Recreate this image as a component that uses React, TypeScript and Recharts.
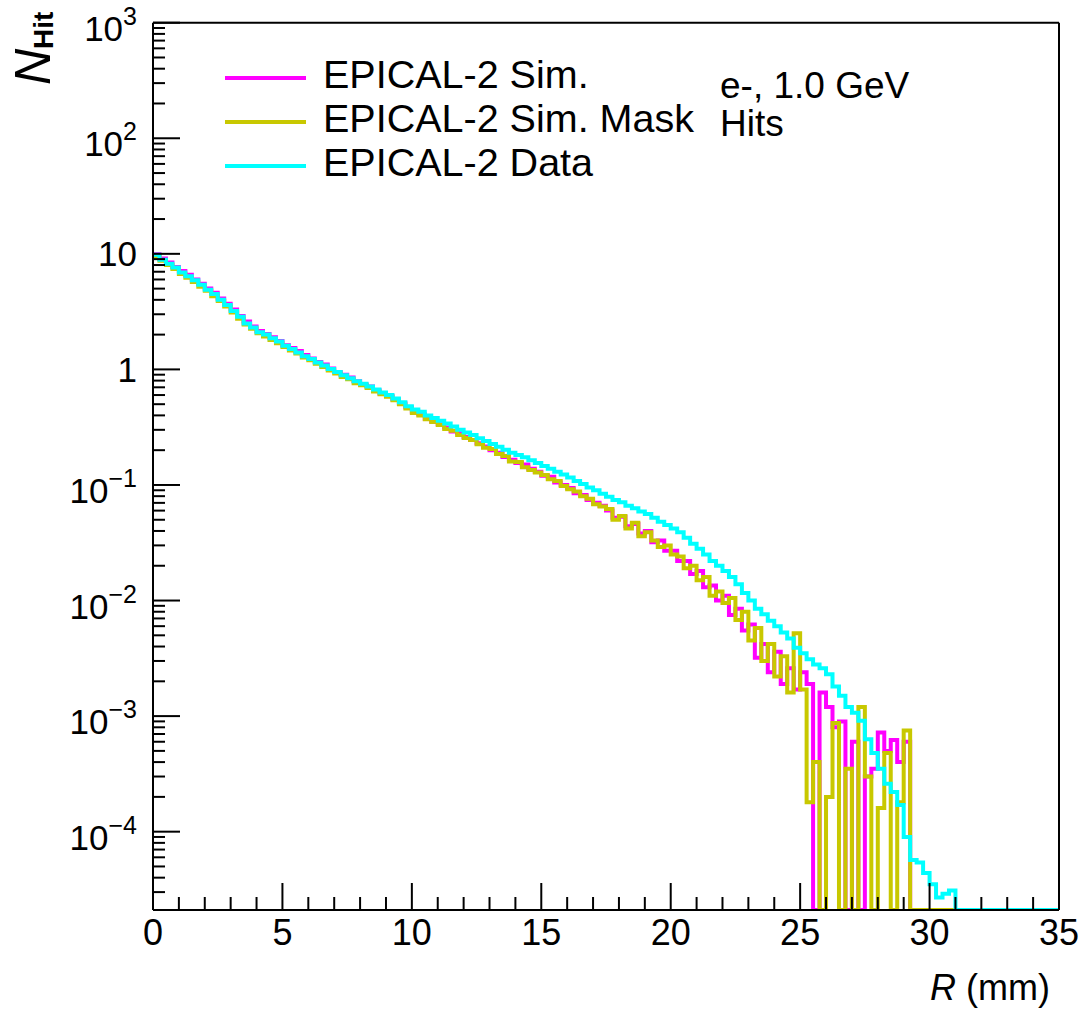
import { LineChart, Line, XAxis, YAxis, ReferenceLine } from 'recharts';

const FONT = '"Liberation Sans", Arial, Helvetica, sans-serif';

// histogram: 140 bins of 0.25 mm from 0 to 35 mm
const BIN_WIDTH = 0.25;
const Y_FLOOR = 2.1e-5;

// EPICAL-2 Data (cyan)
const dataHits = [
  9.8, 8.9, 8.2, 7.6, 6.9, 6.4, 5.9, 5.4, 4.9, 4.5,
  4.0, 3.6, 3.2, 2.85, 2.5, 2.3, 2.1, 2.0, 1.86, 1.74,
  1.6, 1.5, 1.4, 1.3, 1.23, 1.15, 1.08, 1.01, 0.95, 0.89,
  0.84, 0.79, 0.75, 0.71, 0.67, 0.63, 0.6, 0.56, 0.52, 0.48,
  0.45, 0.43, 0.4, 0.38, 0.36, 0.34, 0.32, 0.3, 0.285, 0.27,
  0.254, 0.24, 0.226, 0.214, 0.202, 0.19, 0.182, 0.174, 0.164, 0.155,
  0.146, 0.138, 0.13, 0.123, 0.116, 0.108, 0.102, 0.095, 0.09, 0.084,
  0.079, 0.074, 0.071, 0.066, 0.063, 0.059, 0.056, 0.052, 0.048, 0.045,
  0.042, 0.039, 0.035, 0.031, 0.028, 0.025, 0.022, 0.02, 0.018, 0.016,
  0.0138, 0.0116, 0.01, 0.0085, 0.0076, 0.0067, 0.006, 0.0053, 0.0047, 0.0039,
  0.0035, 0.0031, 0.0028, 0.0026, 0.0023, 0.0018, 0.0015, 0.0012, 0.00107, 0.00091,
  0.00063, 0.00048, 0.00035, 0.00026, 0.00022, 0.00017, 0.00009, 0.000057, 0.000054, 0.000044,
  0.000035, 0.000027, 0.000029, 0.000031, 0, 0, 0, 0, 0, 0,
  0, 0, 0, 0, 0, 0, 0, 0, 0, 0,
];

// EPICAL-2 Sim. (magenta)
const simHits = [
  9.9, 9.1, 8.4, 7.7, 7.1, 6.6, 6.0, 5.5, 5.0, 4.6,
  4.1, 3.7, 3.3, 2.9, 2.6, 2.35, 2.15, 2.02, 1.9, 1.76,
  1.62, 1.53, 1.44, 1.33, 1.24, 1.16, 1.1, 1.02, 0.95, 0.9,
  0.85, 0.79, 0.74, 0.71, 0.66, 0.62, 0.59, 0.55, 0.51, 0.47,
  0.43, 0.41, 0.375, 0.355, 0.335, 0.315, 0.29, 0.28, 0.26, 0.245,
  0.23, 0.215, 0.2, 0.19, 0.175, 0.165, 0.155, 0.15, 0.138, 0.13,
  0.12, 0.118, 0.105, 0.1, 0.094, 0.085, 0.082, 0.074, 0.07, 0.066,
  0.06, 0.052, 0.053, 0.044, 0.046, 0.038, 0.04, 0.032, 0.033, 0.027,
  0.027, 0.022, 0.022, 0.017, 0.018, 0.013, 0.0135, 0.01, 0.011, 0.0075,
  0.0085, 0.0055, 0.0062, 0.0032, 0.0042, 0.0024, 0.0036, 0.0019, 0.0026, 0.0017,
  0.0024, 0.0019, 0, 0.0016, 0.0012, 0.0008, 0.0009, 0, 0.0006, 0,
  0.0003, 0.00035, 0.00072, 0.0005, 0.00062, 0.0004, 0.0006, 0, 0, 0,
  0, 0, 0, 0, 0, 0, 0, 0, 0, 0,
  0, 0, 0, 0, 0, 0, 0, 0, 0, 0,
];

// EPICAL-2 Sim. Mask (olive yellow)
const maskHits = [
  9.5, 8.7, 8.0, 7.4, 6.7, 6.2, 5.7, 5.2, 4.8, 4.3,
  3.9, 3.5, 3.1, 2.75, 2.45, 2.25, 2.05, 1.93, 1.8, 1.68,
  1.56, 1.46, 1.37, 1.27, 1.2, 1.12, 1.05, 0.98, 0.92, 0.86,
  0.82, 0.76, 0.73, 0.69, 0.645, 0.61, 0.58, 0.54, 0.5, 0.46,
  0.42, 0.4, 0.37, 0.35, 0.33, 0.305, 0.295, 0.27, 0.255, 0.245,
  0.225, 0.21, 0.205, 0.185, 0.178, 0.16, 0.158, 0.142, 0.135, 0.128,
  0.122, 0.112, 0.108, 0.098, 0.092, 0.088, 0.08, 0.076, 0.068, 0.065,
  0.062, 0.05, 0.054, 0.042, 0.047, 0.036, 0.039, 0.033, 0.029, 0.03,
  0.025, 0.024, 0.019, 0.02, 0.015, 0.016, 0.011, 0.012, 0.0095, 0.0105,
  0.0068, 0.008, 0.0045, 0.0058, 0.003, 0.0042, 0.0022, 0.0033, 0.0016, 0.0052,
  0.0017, 0.00018, 0.0004, 0, 0.0002, 0.00087, 0, 0.00035, 0, 0.0012,
  0.0003, 0, 0.00016, 0.00048, 0, 0.00018, 0.00075, 0, 0, 0,
  0, 0, 0, 0, 0, 0, 0, 0, 0, 0,
  0, 0, 0, 0, 0, 0, 0, 0, 0, 0,
];

const xTicks = Array.from({ length: 36 }, (_, i) => i);
const yDecades = [-5, -4, -3, -2, -1, 0, 1, 2];
const yTicks: number[] = [];
yDecades.forEach(d => {
  for (let m = 1; m <= 9; m++) {
    const v = m * Math.pow(10, d);
    if (v >= Y_FLOOR) yTicks.push(v);
  }
});
yTicks.push(1000);

const legendItems = [
  { name: 'EPICAL-2 Sim.', color: '#ff00ff' },
  { name: 'EPICAL-2 Sim. Mask', color: '#c8c800' },
  { name: 'EPICAL-2 Data', color: '#00ffff' },
];

const floor = (v: number) => (v > Y_FLOOR ? v : Y_FLOOR);

const rows = dataHits.map((_, i) => ({
  r: i * BIN_WIDTH,
  sim: floor(simHits[i]),
  mask: floor(maskHits[i]),
  data: floor(dataHits[i]),
}));
const last = dataHits.length - 1;
rows.push({ r: 35, sim: floor(simHits[last]), mask: floor(maskHits[last]), data: floor(dataHits[last]) });

const XTick = (props: any) => {
  const { x, y, payload } = props;
  const v = payload.value;
  const major = v % 5 === 0;
  return (
    <g>
      <line x1={x} x2={x} y1={y} y2={y - (major ? 27 : 13)} stroke="#000" strokeWidth={2} />
      {major && (
        <text x={x} y={y + 35} textAnchor="middle" fontSize={36} fontFamily={FONT} fill="#000">
          {v}
        </text>
      )}
    </g>
  );
};

const YTick = (props: any) => {
  const { x, y, payload } = props;
  const v = payload.value;
  const e = Math.round(Math.log10(v));
  const major = Math.abs(Math.log10(v) - e) < 1e-6;
  let label = null;
  if (major) {
    if (e === 0 || e === 1) {
      label = (
        <text x={x - 16} y={y + 12.5} textAnchor="end" fontSize={35} fontFamily={FONT} fill="#000">
          {e === 0 ? '1' : '10'}
        </text>
      );
    } else {
      label = (
        <text x={x - 16} y={y + 18} textAnchor="end" fontSize={35} fontFamily={FONT} fill="#000">
          10
          <tspan dy={-16} fontSize={25}>
            {e < 0 ? `\u2212${-e}` : `${e}`}
          </tspan>
        </text>
      );
    }
  }
  return (
    <g>
      <line x1={x} x2={x + (major ? 27 : 12)} y1={y} y2={y} stroke="#000" strokeWidth={2} />
      {label}
    </g>
  );
};

export default function App() {
  return (
    <div style={{ position: 'absolute', left: 0, top: 0, width: 1086, height: 1009, background: '#fff' }}>
      <LineChart width={1086} height={1009} data={rows} margin={{ top: 22.7, right: 27, bottom: 0, left: 0 }}>
        <XAxis
          dataKey="r"
          type="number"
          domain={[0, 35]}
          ticks={xTicks}
          interval={0}
          tick={<XTick />}
          tickLine={false}
          tickSize={0}
          tickMargin={0}
          height={99}
          axisLine={{ stroke: '#000', strokeWidth: 2 }}
          allowDataOverflow
        />
        <YAxis
          type="number"
          scale="log"
          domain={[Y_FLOOR, 1000]}
          ticks={yTicks}
          interval={0}
          tick={<YTick />}
          tickLine={false}
          tickSize={0}
          tickMargin={0}
          width={153}
          axisLine={{ stroke: '#000', strokeWidth: 2 }}
          allowDataOverflow
        />
        <ReferenceLine y={1000} stroke="#000" strokeWidth={2} />
        <ReferenceLine x={35} stroke="#000" strokeWidth={2} />
        <Line dataKey="sim" type="stepAfter" stroke="#ff00ff" strokeWidth={4} dot={false} isAnimationActive={false} />
        <Line dataKey="mask" type="stepAfter" stroke="#c8c800" strokeWidth={4} dot={false} isAnimationActive={false} />
        <Line dataKey="data" type="stepAfter" stroke="#00ffff" strokeWidth={4} dot={false} isAnimationActive={false} />
      </LineChart>
      <svg width={1086} height={1009} style={{ position: 'absolute', left: 0, top: 0, pointerEvents: 'none' }} fontFamily={FONT}>
        {legendItems.map((item, i) => (
          <g key={item.name}>
            <line x1={225} x2={306} y1={78 + i * 44} y2={78 + i * 44} stroke={item.color} strokeWidth={4} />
            <text x={323} y={88 + i * 44} fontSize={39.5} fill="#000">
              {item.name}
            </text>
          </g>
        ))}
        <text x={720} y={98} fontSize={37} fill="#000">e-, 1.0 GeV</text>
        <text x={720} y={136} fontSize={37} fill="#000">Hits</text>
        <text transform="translate(50,85) rotate(-90)" fontSize={50} fill="#000">
          <tspan fontStyle="italic">N</tspan>
          <tspan dy={3} fontSize={28} fontWeight="bold">Hit</tspan>
        </text>
        <text x={1050} y={1000} textAnchor="end" fontSize={36} fill="#000">
          <tspan fontStyle="italic">R</tspan> (mm)
        </text>
      </svg>
    </div>
  );
}
